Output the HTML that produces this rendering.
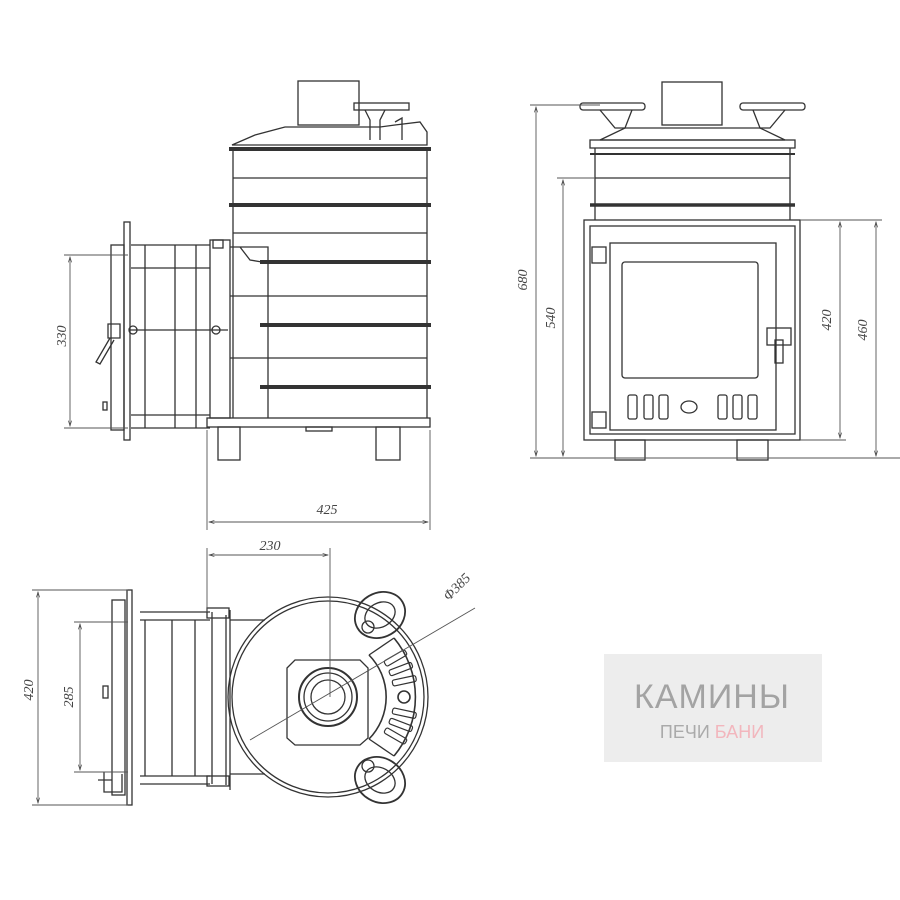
<!DOCTYPE html>
<html><head><meta charset="utf-8"><style>
html,body{margin:0;padding:0;background:#fff;}
svg{display:block;}
text{font-family:"Liberation Serif",serif;font-style:italic;fill:#444;font-size:14px;}
</style></head><body>
<svg width="900" height="900" viewBox="0 0 900 900" xmlns="http://www.w3.org/2000/svg">
<defs>
<marker id="a" viewBox="0 0 10 10" refX="10" refY="5" markerWidth="8" markerHeight="6" orient="auto-start-reverse"><path d="M0,2 L10,5 L0,8" fill="none" stroke="#444" stroke-width="1.2"/></marker>
</defs>
<g fill="none" stroke="#333" stroke-width="1.3">
<!-- SIDE VIEW -->
<rect x="298" y="81" width="61" height="44"/>
<path d="M232,145 L255,135 L285,127 L380,127 L395,125 L420,122 L427,132 L427,145 Z"/>
<rect x="354" y="103" width="55" height="7"/>
<path d="M365,110 L370,120 L370,140 M385,110 L380,120 L380,140 M395,122 L402,118 L402,140"/>
<line x1="229" y1="149" x2="431" y2="149" stroke-width="4"/>
<path d="M233,151 L233,418 M427,151 L427,418"/>
<line x1="233" y1="178" x2="427" y2="178"/>
<line x1="229" y1="205" x2="431" y2="205" stroke-width="4"/>
<line x1="233" y1="233" x2="427" y2="233"/>
<line x1="260" y1="262" x2="431" y2="262" stroke-width="4"/>
<line x1="230" y1="296" x2="427" y2="296"/>
<line x1="260" y1="325" x2="431" y2="325" stroke-width="4"/>
<line x1="230" y1="358" x2="427" y2="358"/>
<line x1="260" y1="387" x2="431" y2="387" stroke-width="4"/>
<path d="M230,247 L268,247 L268,418 M240,247 L250,260 L262,262"/>
<rect x="207" y="418" width="223" height="9"/>
<rect x="218" y="427" width="22" height="33"/>
<rect x="376" y="427" width="24" height="33"/>
<rect x="306" y="427" width="26" height="4"/>
<rect x="210" y="240" width="20" height="178"/>
<rect x="213" y="240" width="10" height="8"/>
<path d="M131,245 L210,245 M131,428 L210,428 M131,268 L210,268 M131,415 L210,415"/>
<path d="M145,245 L145,428 M175,245 L175,428 M196,245 L196,428"/>
<rect x="124" y="222" width="6" height="218"/>
<rect x="111" y="245" width="13" height="185"/>
<line x1="130" y1="330" x2="228" y2="330"/>
<circle cx="133" cy="330" r="4"/><circle cx="216" cy="330" r="4"/>
<path d="M108,324 L120,324 L120,338 L108,338 Z M110,338 L96,362 L100,364 L114,340"/>
<rect x="103" y="402" width="4" height="8"/>
<g stroke="#555" stroke-width="0.9">
<path d="M64,255 L128,255 M64,428 L128,428"/>
<line x1="70" y1="257" x2="70" y2="426" marker-start="url(#a)" marker-end="url(#a)"/>
<path d="M207,430 L207,530 M430,430 L430,530"/>
<line x1="209" y1="522" x2="428" y2="522" marker-start="url(#a)" marker-end="url(#a)"/>
</g>
<!-- FRONT VIEW -->
<rect x="662" y="82" width="60" height="43"/>
<path d="M600,140 L625,128 L760,128 L785,140 Z"/>
<rect x="580" y="103" width="65" height="7" rx="3"/>
<rect x="740" y="103" width="65" height="7" rx="3"/>
<path d="M600,110 L615,128 L625,128 L632,110 M753,110 L760,128 L770,128 L785,110"/>
<rect x="590" y="140" width="205" height="8"/>
<path d="M595,148 L595,220 M790,148 L790,220"/>
<line x1="590" y1="154" x2="795" y2="154" stroke-width="2"/>
<line x1="595" y1="178" x2="790" y2="178"/>
<line x1="590" y1="205" x2="795" y2="205" stroke-width="3.5"/>
<rect x="584" y="220" width="216" height="220"/>
<rect x="590" y="226" width="205" height="208"/>
<rect x="610" y="243" width="166" height="187"/>
<rect x="622" y="262" width="136" height="116" rx="3"/>
<rect x="592" y="247" width="14" height="16"/><rect x="592" y="412" width="14" height="16"/>
<rect x="767" y="328" width="24" height="17"/><rect x="775" y="340" width="8" height="23"/>
<rect x="628" y="395" width="9" height="24" rx="2"/><rect x="644" y="395" width="9" height="24" rx="2"/><rect x="659" y="395" width="9" height="24" rx="2"/>
<rect x="718" y="395" width="9" height="24" rx="2"/><rect x="733" y="395" width="9" height="24" rx="2"/><rect x="748" y="395" width="9" height="24" rx="2"/>
<ellipse cx="689" cy="407" rx="8" ry="6"/>
<rect x="615" y="440" width="30" height="20"/><rect x="737" y="440" width="31" height="20"/>
<g stroke="#555" stroke-width="0.9">
<path d="M530,105 L600,105 M530,458 L900,458 M557,178 L595,178 M800,220 L882,220 M800,440 L846,440"/>
<line x1="536" y1="107" x2="536" y2="456" marker-start="url(#a)" marker-end="url(#a)"/>
<line x1="563" y1="180" x2="563" y2="456" marker-start="url(#a)" marker-end="url(#a)"/>
<line x1="840" y1="222" x2="840" y2="438" marker-start="url(#a)" marker-end="url(#a)"/>
<line x1="876" y1="222" x2="876" y2="456" marker-start="url(#a)" marker-end="url(#a)"/>
</g>
<!-- TOP VIEW -->
<circle cx="328" cy="697" r="100"/>
<circle cx="328" cy="697" r="96"/>
<path d="M230,610 L230,790 M226,615 L226,785"/>
<rect x="207" y="608" width="22" height="10"/><rect x="207" y="776" width="22" height="10"/>
<path d="M140,612 L210,612 M140,784 L210,784 M140,620 L210,620 M140,776 L210,776 M230,620 L265,620 M230,774 L265,774"/>
<path d="M145,620 L145,776 M172,620 L172,776 M195,620 L195,776 M212,612 L212,784"/>
<rect x="127" y="590" width="5" height="215"/>
<rect x="112" y="600" width="13" height="195"/>
<rect x="103" y="686" width="5" height="12"/>
<path d="M98,780 L112,780 M104,772 L104,792 L122,792 L122,774"/>
<path d="M287,668 L295,660 L360,660 L368,668 L368,738 L360,745 L295,745 L287,738 Z"/>
<circle cx="328" cy="697" r="29" stroke-width="2"/>
<circle cx="328" cy="697" r="24"/>
<circle cx="328" cy="697" r="17"/>
<!-- grate sector -->
<path d="M369,655 A60,60 0 0 1 369,739" stroke-width="1.6"/>
<path d="M394,638 A92,92 0 0 1 394,756" stroke-width="1.6"/>
<path d="M369,655 L394,638 M369,739 L394,756"/>
<g stroke-width="1.2">
<rect x="394" y="694" width="24" height="6" rx="2" transform="rotate(-30 328 697)"/>
<rect x="394" y="694" width="24" height="6" rx="2" transform="rotate(-21 328 697)"/>
<rect x="394" y="694" width="24" height="6" rx="2" transform="rotate(-12 328 697)"/>
<rect x="394" y="694" width="24" height="6" rx="2" transform="rotate(12 328 697)"/>
<rect x="394" y="694" width="24" height="6" rx="2" transform="rotate(21 328 697)"/>
<rect x="394" y="694" width="24" height="6" rx="2" transform="rotate(30 328 697)"/>
</g>
<circle cx="404" cy="697" r="6" stroke-width="1.6"/>
<ellipse cx="380" cy="615" rx="26" ry="22" transform="rotate(-30 380 615)" stroke-width="1.8"/>
<ellipse cx="380" cy="615" rx="16" ry="12" transform="rotate(-30 380 615)"/>
<circle cx="368" cy="627" r="6"/>
<ellipse cx="380" cy="780" rx="26" ry="22" transform="rotate(30 380 780)" stroke-width="1.8"/>
<ellipse cx="380" cy="780" rx="16" ry="12" transform="rotate(30 380 780)"/>
<circle cx="368" cy="766" r="6"/>
<g stroke="#555" stroke-width="0.9">
<path d="M207,548 L207,612 M330,548 L330,697 M32,590 L128,590 M32,805 L128,805 M74,622 L128,622 M74,772 L128,772"/>
<line x1="209" y1="555" x2="328" y2="555" marker-start="url(#a)" marker-end="url(#a)"/>
<line x1="38" y1="592" x2="38" y2="803" marker-start="url(#a)" marker-end="url(#a)"/>
<line x1="80" y1="624" x2="80" y2="770" marker-start="url(#a)" marker-end="url(#a)"/>
<line x1="250" y1="740" x2="475" y2="608"/>
</g>
</g>
<text transform="translate(66,336) rotate(-90)" text-anchor="middle">330</text>
<text x="327" y="514" text-anchor="middle">425</text>
<text x="270" y="550" text-anchor="middle">230</text>
<text transform="translate(33,690) rotate(-90)" text-anchor="middle">420</text>
<text transform="translate(73,697) rotate(-90)" text-anchor="middle">285</text>
<text transform="translate(460,590) rotate(-45)" text-anchor="middle" font-size="12">Φ385</text>
<text transform="translate(527,280) rotate(-90)" text-anchor="middle">680</text>
<text transform="translate(555,318) rotate(-90)" text-anchor="middle">540</text>
<text transform="translate(831,320) rotate(-90)" text-anchor="middle">420</text>
<text transform="translate(867,330) rotate(-90)" text-anchor="middle">460</text>
<rect x="604" y="654" width="218" height="108" fill="#ededed"/>
<text x="712" y="708" text-anchor="middle" style="font-family:'Liberation Sans',sans-serif;font-style:normal;font-size:34px;fill:#a3a3a3;letter-spacing:1px">КАМИНЫ</text>
<text x="712" y="738" text-anchor="middle" style="font-family:'Liberation Sans',sans-serif;font-style:normal;font-size:18px;fill:#aaa"><tspan>ПЕЧИ </tspan><tspan style="fill:#f2b6bd">БАНИ</tspan></text>
</svg>
</body></html>
